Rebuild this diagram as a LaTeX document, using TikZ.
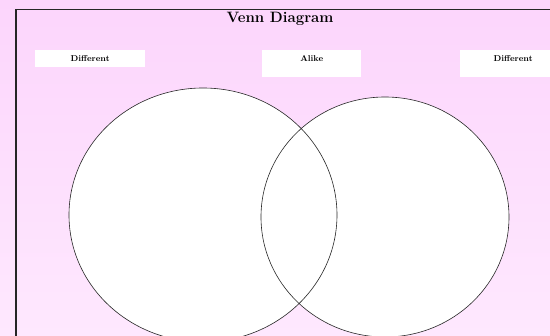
\documentclass[tikz,border=0pt]{standalone}
\usepackage{tikz}
\usepackage{xcolor}
\definecolor{pinktop}{RGB}{252,213,252}
\definecolor{pinkbot}{RGB}{254,232,254}

\begin{document}
\begin{tikzpicture}[x=1pt,y=-1pt,
  labelbox/.style={fill=white,inner sep=0pt,anchor=north west,text height=11.5pt,
    font=\fontsize{8.5}{10}\selectfont\bfseries}]
\useasboundingbox (0,0) rectangle (550,336);
\shade[top color=pinktop,bottom color=pinkbot] (0,0) rectangle (550,336);
\draw[line width=1.2pt,black!85] (16,9.5) rectangle (560,346);
\node[font=\fontsize{15}{18}\selectfont\bfseries] (title) at (280,19) {Venn Diagram};
\node[labelbox,minimum width=110pt,minimum height=17pt,text depth=5.5pt] (diffl) at (35,50) {Different};
\node[labelbox,minimum width=99pt,minimum height=27pt,text depth=15.5pt] (alike) at (262,50) {Alike};
\node[labelbox,minimum width=106pt,minimum height=27pt,text depth=15.5pt] (diffr) at (460,50) {Different};
\fill[white] (203,215) ellipse [x radius=134,y radius=127];
\fill[white] (385,217) ellipse [x radius=124,y radius=120];
\draw[line width=0.6pt,black!85] (203,215) ellipse [x radius=134,y radius=127];
\draw[line width=0.6pt,black!85] (385,217) ellipse [x radius=124,y radius=120];
\end{tikzpicture}
\end{document}
